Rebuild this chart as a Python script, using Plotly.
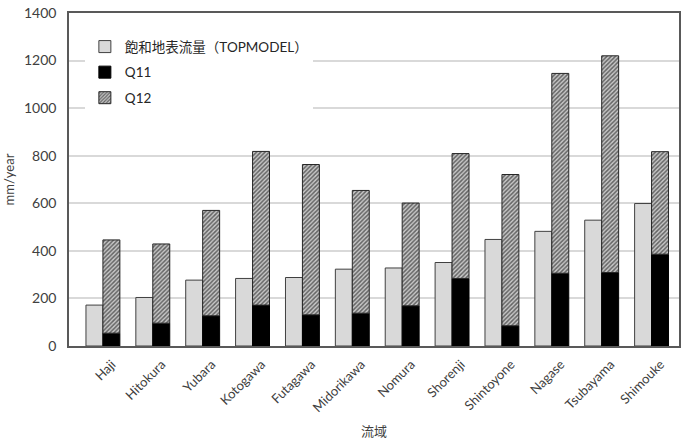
import plotly.graph_objects as go

# 流域ごとの年流量 (mm/year)
basins = ["Haji", "Hitokura", "Yubara", "Kotogawa", "Futagawa", "Midorikawa",
          "Nomura", "Shorenji", "Shintoyone", "Nagase", "Tsubayama", "Shimouke"]
saturated_flow = [172, 204, 277, 284, 288, 323, 328, 351, 448, 482, 529, 599]
q11 = [54, 96, 127, 172, 131, 138, 169, 284, 85, 306, 309, 386]
q_total = [446, 429, 570, 818, 763, 654, 601, 809, 721, 1146, 1220, 817]
q12 = [t - a for t, a in zip(q_total, q11)]

y_ticks = [0, 200, 400, 600, 800, 1000, 1200, 1400]

font_family = "Lato, 'Noto Sans CJK JP', sans-serif"
bar_w = 0.34
x_idx = list(range(len(basins)))

fig = go.Figure()
fig.add_trace(go.Bar(
    x=x_idx, y=saturated_flow, name="飽和地表流量（TOPMODEL）",
    width=bar_w, offset=-bar_w,
    marker=dict(color="#d9d9d9", line=dict(color="#404040", width=1)),
    legendgroup="a",
))
fig.add_trace(go.Bar(
    x=x_idx, y=q11, name="Q11",
    width=bar_w, offset=0,
    marker=dict(color="#000000", line=dict(color="#000000", width=1)),
    legendgroup="b",
))
fig.add_trace(go.Bar(
    x=x_idx, y=q12, base=q11, name="Q12",
    width=bar_w, offset=0,
    marker=dict(color="#ffffff", line=dict(color="#262626", width=1),
                pattern=dict(shape="/", fgcolor="#000000", bgcolor="#c8c8c8",
                             size=3, solidity=0.5)),
    legendgroup="c",
))

fig.update_layout(
    width=682, height=439,
    margin=dict(l=69, r=1, t=13, b=92),
    barmode="overlay",
    plot_bgcolor="#ffffff", paper_bgcolor="#ffffff",
    font=dict(family=font_family, size=13, color="#404040"),
    showlegend=True,
    legend=dict(
        x=0.026, y=0.945, xanchor="left", yanchor="top",
        bgcolor="#ffffff", font=dict(size=13.5, color="#262626"),
        traceorder="grouped", tracegroupgap=5,
        itemwidth=30,
    ),
    xaxis=dict(
        tickmode="array", tickvals=x_idx, ticktext=basins,
        range=[-0.68, 11.55], tickangle=-45,
        showline=True, linecolor="#595959", linewidth=1.5, mirror=True,
        showgrid=False, ticks="",
        ticklabelshift=9, ticklabelstandoff=4,
        tickfont=dict(size=13, color="#404040"),
        title=dict(text="流域", font=dict(size=13, color="#404040"), standoff=14),
    ),
    yaxis=dict(
        range=[0, 1400], tickvals=y_ticks,
        showline=True, linecolor="#595959", linewidth=1.5, mirror=True,
        showgrid=True, gridcolor="#d9d9d9", gridwidth=1.5,
        ticks="", zeroline=False, ticklabelstandoff=8,
        tickfont=dict(size=14, color="#404040"),
        title=dict(text="mm/year", font=dict(size=13, color="#404040"), standoff=6),
    ),
)

fig.write_html("out.html")
